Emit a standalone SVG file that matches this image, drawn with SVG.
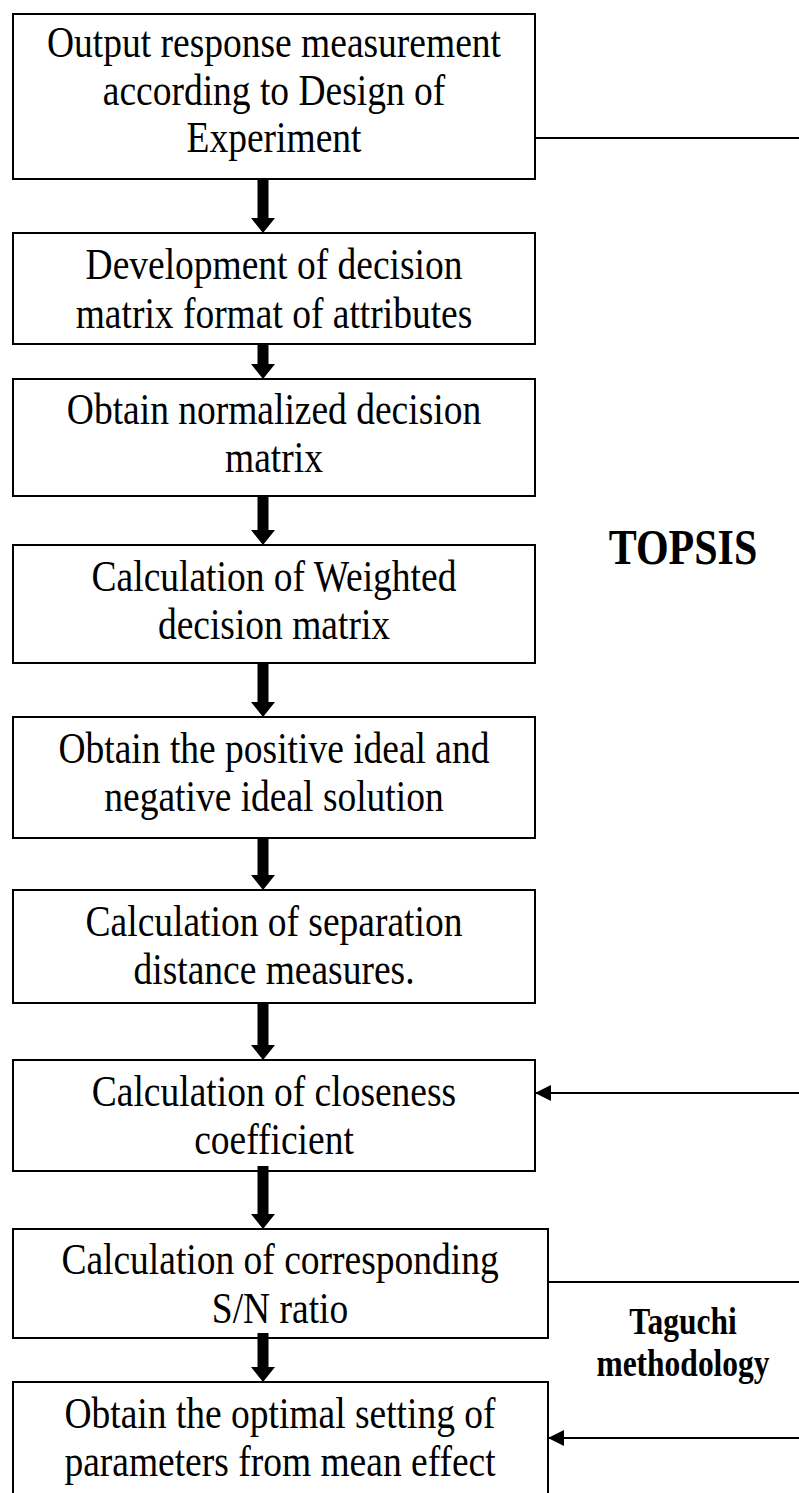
<svg xmlns="http://www.w3.org/2000/svg" width="799" height="1493" viewBox="0 0 799 1493">
<style>
.box{fill:#fff;stroke:#000;stroke-width:2}
.t{font-family:"Liberation Serif","Times New Roman",serif;font-size:37.5px;fill:#000;text-anchor:middle}
.b{font-family:"Liberation Serif","Times New Roman",serif;font-weight:bold;fill:#000;text-anchor:middle}
.ln{stroke:#000;stroke-width:2;fill:none}
.ar{fill:#000}
</style>
<defs>
<marker id="ah" markerWidth="16" markerHeight="16" refX="16" refY="8" orient="auto" markerUnits="userSpaceOnUse">
<path d="M0,0 L16,8 L0,16 Z" fill="#000"/>
</marker>
</defs>
<g id="n1"><rect class="box" x="13" y="14" width="522" height="165"/>
<text class="t" transform="translate(274,57) scale(1,1.2)">Output response measurement</text>
<text class="t" transform="translate(274,105) scale(1,1.2)">according to Design of</text>
<text class="t" transform="translate(274,152) scale(1,1.2)">Experiment</text></g>
<g id="n2"><rect class="box" x="13" y="233" width="522" height="111"/>
<text class="t" transform="translate(274,279) scale(1,1.2)">Development of decision</text>
<text class="t" transform="translate(274,328) scale(1,1.2)">matrix format of attributes</text></g>
<g id="n3"><rect class="box" x="13" y="379" width="522" height="117"/>
<text class="t" transform="translate(274,424) scale(1,1.2)">Obtain normalized decision</text>
<text class="t" transform="translate(274,472) scale(1,1.2)">matrix</text></g>
<g id="n4"><rect class="box" x="13" y="545" width="522" height="118"/>
<text class="t" transform="translate(274,591) scale(1,1.2)">Calculation of Weighted</text>
<text class="t" transform="translate(274,639) scale(1,1.2)">decision matrix</text></g>
<g id="n5"><rect class="box" x="13" y="717" width="522" height="121"/>
<text class="t" transform="translate(274,763) scale(1,1.2)">Obtain the positive ideal and</text>
<text class="t" transform="translate(274,811) scale(1,1.2)">negative ideal solution</text></g>
<g id="n6"><rect class="box" x="13" y="890" width="522" height="113"/>
<text class="t" transform="translate(274,936) scale(1,1.2)">Calculation of separation</text>
<text class="t" transform="translate(274,984) scale(1,1.2)">distance measures.</text></g>
<g id="n7"><rect class="box" x="13" y="1060" width="522" height="111"/>
<text class="t" transform="translate(274,1106) scale(1,1.2)">Calculation of closeness</text>
<text class="t" transform="translate(274,1154) scale(1,1.2)">coefficient</text></g>
<g id="n8"><rect class="box" x="13" y="1229" width="535" height="109"/>
<text class="t" transform="translate(280,1274) scale(1,1.2)">Calculation of corresponding</text>
<text class="t" transform="translate(280,1323) scale(1,1.2)">S/N ratio</text></g>
<g id="n9"><rect class="box" x="13" y="1382" width="535" height="130"/>
<text class="t" transform="translate(280,1428) scale(1,1.2)">Obtain the optimal setting of</text>
<text class="t" transform="translate(280,1476) scale(1,1.2)">parameters from mean effect</text></g>
<g id="labels">
<text class="b" font-size="42" transform="translate(683,564) scale(1,1.2)">TOPSIS</text>
<text class="b" font-size="31.5" transform="translate(683,1334) scale(1,1.2)">Taguchi</text>
<text class="b" font-size="31.5" transform="translate(683,1376) scale(1,1.2)">methodology</text>
</g>
<g id="connectors">
<path class="ar" d="M257.5,180 H268.5 V218 H275 L263,233 L251,218 H257.5 Z"/>
<path class="ar" d="M257.5,344 H268.5 V364 H275 L263,379 L251,364 H257.5 Z"/>
<path class="ar" d="M257.5,496 H268.5 V530 H275 L263,545 L251,530 H257.5 Z"/>
<path class="ar" d="M257.5,663 H268.5 V702 H275 L263,717 L251,702 H257.5 Z"/>
<path class="ar" d="M257.5,838 H268.5 V875 H275 L263,890 L251,875 H257.5 Z"/>
<path class="ar" d="M257.5,1003 H268.5 V1045 H275 L263,1060 L251,1045 H257.5 Z"/>
<path class="ar" d="M257.5,1166 H268.5 V1214 H275 L263,1229 L251,1214 H257.5 Z"/>
<path class="ar" d="M257.5,1333 H268.5 V1367 H275 L263,1382 L251,1367 H257.5 Z"/>
<line class="ln" x1="535" y1="138" x2="799" y2="138"/>
<line class="ln" x1="799" y1="1093" x2="535" y2="1093" marker-end="url(#ah)"/>
<line class="ln" x1="548" y1="1282" x2="799" y2="1282"/>
<line class="ln" x1="799" y1="1438" x2="548" y2="1438" marker-end="url(#ah)"/>
</g>
</svg>
